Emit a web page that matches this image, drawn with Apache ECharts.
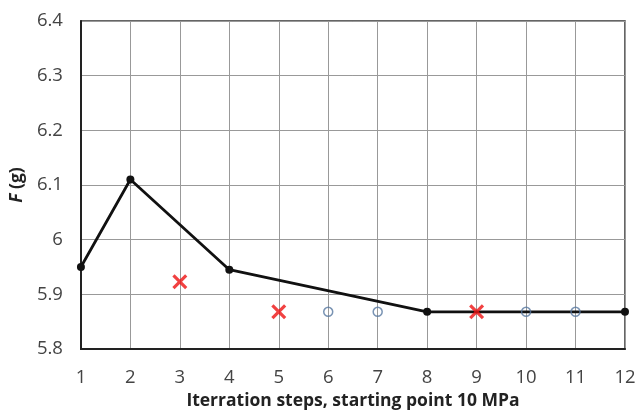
<!DOCTYPE html>
<html><head><meta charset="utf-8">
<script src="https://cdn.jsdelivr.net/npm/echarts@6/dist/echarts.min.js"></script>
<style>html,body{margin:0;padding:0;background:#fff}#c{width:642px;height:416px}</style>
</head><body><div id="c"></div>
<script>
const lineX = [1, 2, 4, 8, 12];
const lineY = [5.95, 6.11, 5.945, 5.868, 5.868];
const crossX = [3, 5, 9];
const crossY = [5.923, 5.868, 5.868];
const circX = [6, 7, 10, 11];
const circY = [5.868, 5.868, 5.868, 5.868];
const yTicks = {min: 5.8, max: 6.4, step: 0.1};
const xTicks = {min: 1, max: 12, step: 1};

const zip = (a, b) => a.map((v, i) => [v, b[i]]);
const font = '"Open Sans", "Noto Sans", sans-serif';
const xPath = 'path://M0,3 L3,0 L10,7 L17,0 L20,3 L13,10 L20,17 L17,20 L10,13 L3,20 L0,17 L7,10 Z';

const chart = echarts.init(document.getElementById('c'), null, {renderer: 'canvas'});
chart.setOption({
  animation: false,
  grid: {left: 79, right: 17, top: 21, bottom: 67, show: true, borderColor: '#333', borderWidth: 1.5},
  xAxis: {
    type: 'value', min: xTicks.min, max: xTicks.max, interval: xTicks.step,
    name: 'Iterration steps, starting point 10 MPa', nameLocation: 'middle', nameGap: 41,
    nameTextStyle: {fontFamily: font, fontWeight: 'bold', fontSize: 17.5, color: '#222'},
    axisLine: {show: true, lineStyle: {color: '#222', width: 2}},
    axisTick: {show: false},
    axisLabel: {fontFamily: font, fontSize: 18.5, color: '#444', margin: 19},
    splitLine: {show: true, lineStyle: {color: '#999', width: 1}}
  },
  yAxis: {
    type: 'value', min: yTicks.min, max: yTicks.max, interval: yTicks.step,
    name: '{i|F} (g)', nameLocation: 'middle', nameGap: 51,
    nameTextStyle: {fontFamily: font, fontWeight: 'bold', fontSize: 17.5, color: '#222',
      rich: {i: {fontStyle: 'italic', fontWeight: 'bold', fontFamily: font, fontSize: 17.5, color: '#222'}}},
    axisLine: {show: true, lineStyle: {color: '#222', width: 2}},
    axisTick: {show: false},
    axisLabel: {fontFamily: font, fontSize: 18.5, color: '#444', margin: 18,
      formatter: v => String(Math.round(v * 10) / 10)},
    splitLine: {show: true, lineStyle: {color: '#999', width: 1}}
  },
  series: [
    {type: 'line', data: zip(lineX, lineY), symbol: 'circle', symbolSize: 8,
      lineStyle: {color: '#111', width: 2.8}, itemStyle: {color: '#111'}, z: 2},
    {type: 'scatter', data: zip(circX, circY), symbol: 'circle', symbolSize: 9,
      itemStyle: {color: 'rgba(255,255,255,0)', borderColor: '#5878a0', borderWidth: 1.5}, z: 3},
    {type: 'scatter', data: zip(crossX, crossY), symbol: xPath, symbolSize: 15,
      itemStyle: {color: '#ee1111'}, z: 4}
  ]
});
</script></body></html>
